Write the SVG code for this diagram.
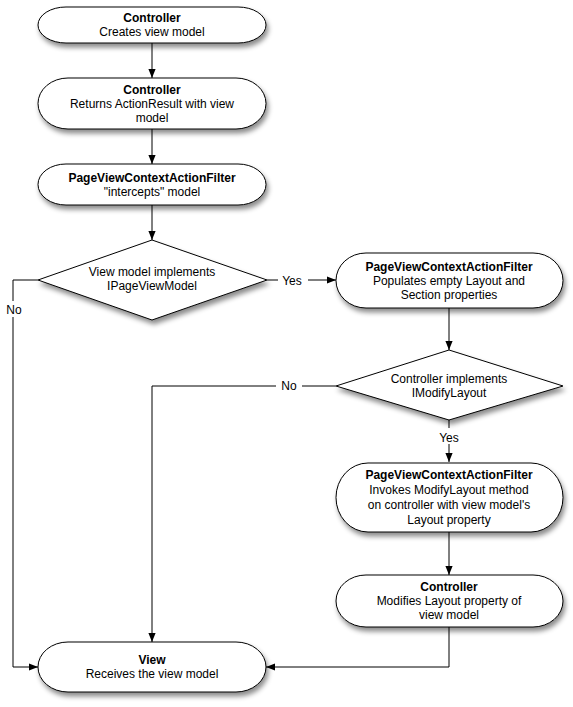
<svg xmlns="http://www.w3.org/2000/svg" width="573" height="707" viewBox="0 0 573 707">
<defs>
<filter id="sh" x="-10%" y="-20%" width="130%" height="160%">
<feDropShadow dx="2" dy="4" stdDeviation="2.5" flood-color="#000" flood-opacity="0.45"/>
</filter>
<marker id="ah" viewBox="0 0 10 10" refX="10" refY="5" markerWidth="9" markerHeight="9" markerUnits="userSpaceOnUse" orient="auto">
<path d="M0,1 L10,5 L0,9 z" fill="#000"/>
</marker>
</defs>
<style>
.n{fill:#fff;stroke:#000;stroke-width:1;filter:url(#sh)}
.t{font-family:"Liberation Sans",Arial,sans-serif;font-size:12px;text-anchor:middle;fill:#000}
.b{font-weight:bold}
.c{fill:none;stroke:#000;stroke-width:1}
.lb{fill:#fff}
</style>
<rect width="573" height="707" fill="#fff"/>
<g id="connectors">
<path class="c" d="M152,43 V78" marker-end="url(#ah)"/>
<path class="c" d="M152,129 V164" marker-end="url(#ah)"/>
<path class="c" d="M152,205 V240" marker-end="url(#ah)"/>
<path class="c" d="M267,280 H336" marker-end="url(#ah)"/>
<rect class="lb" x="278" y="272" width="30" height="16"/>
<text class="t" x="292" y="285">Yes</text>
<path class="c" d="M449,308 V350" marker-end="url(#ah)"/>
<path class="c" d="M38,280 H13 V667 H38" marker-end="url(#ah)"/>
<rect class="lb" x="4" y="301" width="20" height="16"/>
<text class="t" x="14" y="314">No</text>
<path class="c" d="M336,386 H152 V642" marker-end="url(#ah)"/>
<rect class="lb" x="276" y="378" width="26" height="16"/>
<text class="t" x="289" y="390">No</text>
<path class="c" d="M449,420 V462" marker-end="url(#ah)"/>
<rect class="lb" x="434" y="428" width="30" height="16"/>
<text class="t" x="449" y="442">Yes</text>
<path class="c" d="M449,532 V575" marker-end="url(#ah)"/>
<path class="c" d="M449,627 V667 H266" marker-end="url(#ah)"/>
</g>
<g id="n1">
<rect class="n" x="38" y="7" width="228" height="36" rx="28" ry="18"/>
<text class="t b" x="152" y="22">Controller</text>
<text class="t" x="152" y="36">Creates view model</text>
</g>
<g id="n2">
<rect class="n" x="38" y="78" width="228" height="51" rx="30" ry="25.5"/>
<text class="t b" x="152" y="94">Controller</text>
<text class="t" x="152" y="108">Returns ActionResult with view</text>
<text class="t" x="152" y="122">model</text>
</g>
<g id="n3">
<rect class="n" x="38" y="164" width="228" height="41" rx="28" ry="20.5"/>
<text class="t b" x="152" y="182">PageViewContextActionFilter</text>
<text class="t" x="152" y="196">"intercepts" model</text>
</g>
<g id="d1">
<path class="n" d="M152,240 L267,280 L152,320 L38,280 Z"/>
<text class="t" x="152" y="276">View model implements</text>
<text class="t" x="152" y="290">IPageViewModel</text>
</g>
<g id="n4">
<rect class="n" x="336" y="253" width="227" height="55" rx="30" ry="27.5"/>
<text class="t b" x="449" y="271">PageViewContextActionFilter</text>
<text class="t" x="449" y="285">Populates empty Layout and</text>
<text class="t" x="449" y="299">Section properties</text>
</g>
<g id="d2">
<path class="n" d="M449,350 L563,386 L449,420 L336,386 Z"/>
<text class="t" x="449" y="383">Controller implements</text>
<text class="t" x="449" y="397">IModifyLayout</text>
</g>
<g id="n5">
<rect class="n" x="336" y="463" width="227" height="69" rx="32" ry="34.5"/>
<text class="t b" x="449" y="479">PageViewContextActionFilter</text>
<text class="t" x="449" y="494">Invokes ModifyLayout method</text>
<text class="t" x="449" y="509">on controller with view model's</text>
<text class="t" x="449" y="524">Layout property</text>
</g>
<g id="n6">
<rect class="n" x="336" y="575" width="227" height="52" rx="30" ry="26"/>
<text class="t b" x="449" y="591">Controller</text>
<text class="t" x="449" y="605">Modifies Layout property of</text>
<text class="t" x="449" y="619">view model</text>
</g>
<g id="view">
<rect class="n" x="38" y="642" width="228" height="50" rx="30" ry="25"/>
<text class="t b" x="152" y="664">View</text>
<text class="t" x="152" y="678">Receives the view model</text>
</g>
</svg>
